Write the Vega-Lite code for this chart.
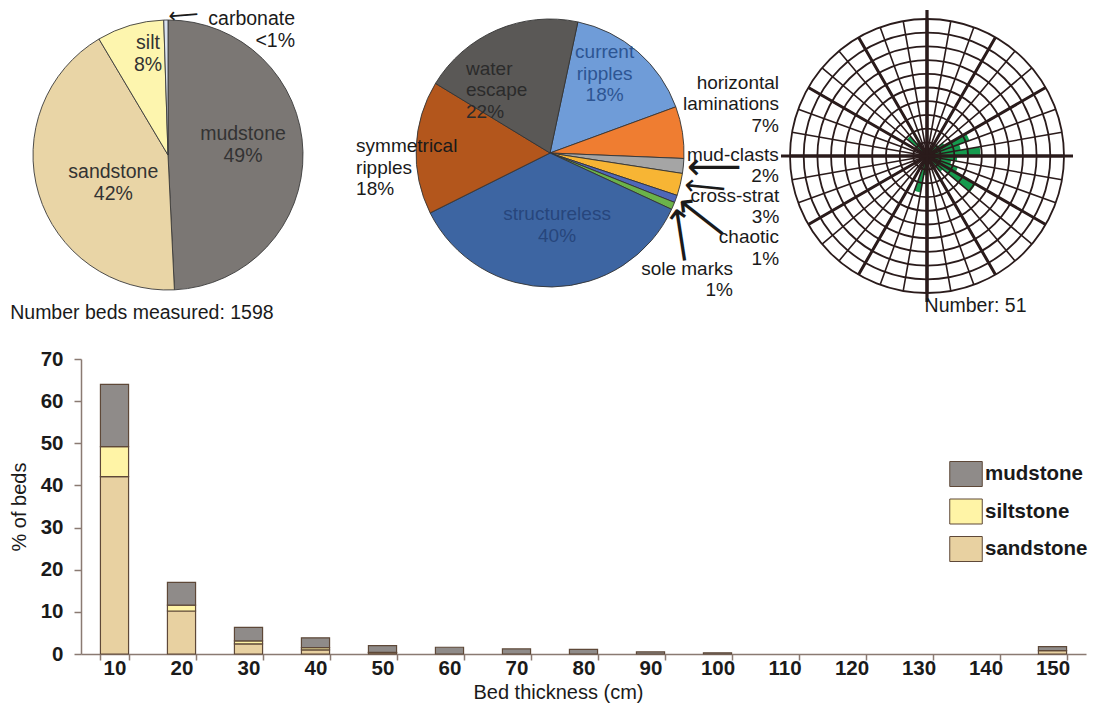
{
  "$schema": "https://vega.github.io/schema/vega-lite/v6.json",
  "background": "#ffffff",
  "padding": {"left": 9, "top": 3, "right": 2, "bottom": 2},
  "config": {
    "font": "Liberation Sans",
    "view": {"stroke": null},
    "text": {"font": "Liberation Sans", "lineBreak": "\n", "fontSize": 19, "lineHeight": 21.5, "color": "#1a1a1a", "baseline": "middle"},
    "title": {"font": "Liberation Sans", "fontSize": 19.5, "fontWeight": "normal", "color": "#1a1a1a"}
  },
  "datasets": {
    "lithology": [
      {"lith": "mudstone", "pct": 49, "label": "mudstone\n49%", "seq": 1},
      {"lith": "sandstone", "pct": 42, "label": "sandstone\n42%", "seq": 2},
      {"lith": "silt", "pct": 8, "label": "silt\n8%", "seq": 3},
      {"lith": "carbonate", "pct": 0.5, "label": "carbonate\n<1%", "seq": 4}
    ],
    "structures": [
      {"structure": "current ripples", "pct": 18, "label": "current\nripples\n18%", "seq": 1},
      {"structure": "horizontal laminations", "pct": 7, "label": "horizontal\nlaminations\n7%", "seq": 2},
      {"structure": "mud-clasts", "pct": 2, "label": "mud-clasts\n2%", "seq": 3},
      {"structure": "cross-strat", "pct": 3, "label": "cross-strat\n3%", "seq": 4},
      {"structure": "chaotic", "pct": 1, "label": "chaotic\n1%", "seq": 5},
      {"structure": "sole marks", "pct": 1, "label": "sole marks\n1%", "seq": 6},
      {"structure": "structureless", "pct": 40, "label": "structureless\n40%", "seq": 7},
      {"structure": "symmetrical ripples", "pct": 18, "label": "symmetrical\nripples\n18%", "seq": 8},
      {"structure": "water escape", "pct": 22, "label": "water\nescape\n22%", "seq": 9}
    ],
    "palaeocurrent": [
      {"from": 40, "to": 50, "n": 1.1},
      {"from": 50, "to": 60, "n": 1.5},
      {"from": 60, "to": 70, "n": 3.3},
      {"from": 70, "to": 80, "n": 2.5},
      {"from": 80, "to": 90, "n": 3.9},
      {"from": 90, "to": 100, "n": 2.2},
      {"from": 100, "to": 110, "n": 1.8},
      {"from": 110, "to": 120, "n": 2.4},
      {"from": 120, "to": 130, "n": 4.1},
      {"from": 130, "to": 140, "n": 1.5},
      {"from": 180, "to": 190, "n": 1.4},
      {"from": 190, "to": 200, "n": 2.7},
      {"from": 310, "to": 320, "n": 1.9},
      {"from": 320, "to": 330, "n": 1.2}
    ],
    "rings": [
      {"ring": 1}, {"ring": 2}, {"ring": 3}, {"ring": 4}, {"ring": 5},
      {"ring": 6}, {"ring": 7}, {"ring": 8}, {"ring": 9}, {"ring": 10}
    ],
    "spokes": [
      {"azimuth": 0}, {"azimuth": 10}, {"azimuth": 20}, {"azimuth": 30}, {"azimuth": 40}, {"azimuth": 50},
      {"azimuth": 60}, {"azimuth": 70}, {"azimuth": 80}, {"azimuth": 90}, {"azimuth": 100}, {"azimuth": 110},
      {"azimuth": 120}, {"azimuth": 130}, {"azimuth": 140}, {"azimuth": 150}, {"azimuth": 160}, {"azimuth": 170},
      {"azimuth": 180}, {"azimuth": 190}, {"azimuth": 200}, {"azimuth": 210}, {"azimuth": 220}, {"azimuth": 230},
      {"azimuth": 240}, {"azimuth": 250}, {"azimuth": 260}, {"azimuth": 270}, {"azimuth": 280}, {"azimuth": 290},
      {"azimuth": 300}, {"azimuth": 310}, {"azimuth": 320}, {"azimuth": 330}, {"azimuth": 340}, {"azimuth": 350}
    ],
    "lithologies": [
      {"lith": "sandstone", "rank": 1},
      {"lith": "siltstone", "rank": 2},
      {"lith": "mudstone", "rank": 3}
    ],
    "beds": [
      {"thickness": 10, "lith": "sandstone", "pct": 42.1},
      {"thickness": 10, "lith": "siltstone", "pct": 7.1},
      {"thickness": 10, "lith": "mudstone", "pct": 14.8},
      {"thickness": 20, "lith": "sandstone", "pct": 10.2},
      {"thickness": 20, "lith": "siltstone", "pct": 1.4},
      {"thickness": 20, "lith": "mudstone", "pct": 5.4},
      {"thickness": 30, "lith": "sandstone", "pct": 2.4},
      {"thickness": 30, "lith": "siltstone", "pct": 0.7},
      {"thickness": 30, "lith": "mudstone", "pct": 3.2},
      {"thickness": 40, "lith": "sandstone", "pct": 1.0},
      {"thickness": 40, "lith": "siltstone", "pct": 0.5},
      {"thickness": 40, "lith": "mudstone", "pct": 2.35},
      {"thickness": 50, "lith": "sandstone", "pct": 0.3},
      {"thickness": 50, "lith": "siltstone", "pct": 0.1},
      {"thickness": 50, "lith": "mudstone", "pct": 1.6},
      {"thickness": 60, "lith": "mudstone", "pct": 1.6},
      {"thickness": 70, "lith": "mudstone", "pct": 1.2},
      {"thickness": 80, "lith": "mudstone", "pct": 1.1},
      {"thickness": 90, "lith": "mudstone", "pct": 0.5},
      {"thickness": 100, "lith": "mudstone", "pct": 0.3},
      {"thickness": 150, "lith": "sandstone", "pct": 0.8},
      {"thickness": 150, "lith": "mudstone", "pct": 0.95}
    ]
  },
  "spacing": 26,
  "resolve": {"scale": {"color": "independent", "theta": "independent", "radius": "independent"}, "legend": {"color": "independent"}},
  "vconcat": [
    {
      "bounds": "flush",
      "spacing": 10,
      "resolve": {"scale": {"color": "independent", "theta": "independent", "radius": "independent"}},
      "hconcat": [
        {
          "width": 174,
          "height": 268,
          "title": {"text": "Number beds measured: 1598", "orient": "bottom", "anchor": "start", "dx": -21, "offset": 12},
          "data": {"name": "lithology"},
          "transform": [{"stack": "pct", "groupby": [], "sort": [{"field": "seq", "order": "ascending"}], "as": ["start", "end"]}],
          "layer": [
            {
              "mark": {"type": "arc", "outerRadius": 135, "stroke": "#3a3a3a", "strokeWidth": 0.9},
              "encoding": {
                "theta": {"field": "end", "type": "quantitative"},
                "theta2": {"field": "start"},
                "color": {"field": "lith", "type": "nominal", "legend": null,
                  "scale": {"domain": ["mudstone", "sandstone", "silt", "carbonate"], "range": ["#7b7774", "#e9d5a6", "#fdf5ae", "#d9e2ef"]}}
              }
            },
            {
              "transform": [{"filter": "datum.lith === 'mudstone'"}],
              "mark": {"type": "text", "radius": 10, "dx": 75, "dy": -11, "fontSize": 19.5, "lineHeight": 22, "color": "#333333"},
              "encoding": {"theta": {"field": "start", "type": "quantitative", "stack": null}, "text": {"field": "label"}}
            },
            {
              "transform": [{"filter": "datum.lith === 'sandstone'"}],
              "mark": {"type": "text", "radius": 28, "dx": -56, "dy": -11, "fontSize": 19.5, "lineHeight": 22, "color": "#333333"},
              "encoding": {"theta": {"field": "start", "type": "quantitative", "stack": null}, "text": {"field": "label"}}
            },
            {
              "transform": [{"filter": "datum.lith === 'silt'"}],
              "mark": {"type": "text", "radius": 103, "dx": 32.7, "dy": -23.5, "fontSize": 19.5, "lineHeight": 22, "color": "#333333"},
              "encoding": {"theta": {"field": "start", "type": "quantitative", "stack": null}, "text": {"field": "label"}}
            },
            {
              "transform": [{"filter": "datum.lith === 'carbonate'"}],
              "mark": {"type": "text", "radius": 125, "dx": 131, "dy": -11, "align": "right", "fontSize": 19.5, "lineHeight": 22},
              "encoding": {"theta": {"field": "start", "type": "quantitative", "stack": null}, "text": {"field": "label"}}
            },
            {
              "transform": [{"filter": "datum.lith === 'carbonate'"}],
              "mark": {"type": "text", "radius": 138, "dx": 4.9, "dy": 0.3, "align": "left", "angle": -4.7, "font": "DejaVu Sans", "fontSize": 21, "text": "⟵"},
              "encoding": {"theta": {"field": "start", "type": "quantitative", "stack": null}}
            }
          ]
        },
        {
          "width": 570,
          "height": 264,
          "data": {"name": "structures"},
          "transform": [{"stack": "pct", "groupby": [], "sort": [{"field": "seq", "order": "ascending"}], "as": ["start", "end"]}],
          "layer": [
            {
              "mark": {"type": "arc", "outerRadius": 134, "stroke": "#333333", "strokeWidth": 0.9},
              "encoding": {
                "theta": {"field": "end", "type": "quantitative", "scale": {"range": [0.20944, 6.49263]}},
                "theta2": {"field": "start"},
                "color": {"field": "structure", "type": "nominal", "legend": null,
                  "scale": {
                    "domain": ["current ripples", "horizontal laminations", "mud-clasts", "cross-strat", "chaotic", "sole marks", "structureless", "symmetrical ripples", "water escape"],
                    "range": ["#6f9cd8", "#ef7d31", "#a5a5a5", "#f7b534", "#4f67b8", "#6bb34a", "#3d65a2", "#b3561c", "#5a5856"]
                  }}
              }
            },
            {
              "transform": [{"filter": "datum.structure === 'current ripples'"}],
              "mark": {"type": "text", "radius": 80, "dx": 38, "dy": -22.5, "color": "#2d5593"},
              "encoding": {"theta": {"field": "start", "type": "quantitative", "stack": null}, "text": {"field": "label"}}
            },
            {
              "transform": [{"filter": "datum.structure === 'water escape'"}],
              "mark": {"type": "text", "radius": 80, "dx": -15.6, "dy": -42.5, "align": "left", "color": "#2b2b2b"},
              "encoding": {"theta": {"field": "start", "type": "quantitative", "stack": null}, "text": {"field": "label"}}
            },
            {
              "transform": [{"filter": "datum.structure === 'structureless'"}],
              "mark": {"type": "text", "radius": 75, "dx": -61, "dy": 29.75, "color": "#27467c"},
              "encoding": {"theta": {"field": "start", "type": "quantitative", "stack": null}, "text": {"field": "label"}}
            },
            {
              "transform": [{"filter": "datum.structure === 'symmetrical ripples'"}],
              "mark": {"type": "text", "radius": 190, "dx": -24, "dy": -91.5, "align": "left"},
              "encoding": {"theta": {"field": "start", "type": "quantitative", "stack": null}, "text": {"field": "label"}}
            },
            {
              "transform": [{"filter": "datum.structure === 'horizontal laminations'"}],
              "mark": {"type": "text", "radius": 240, "dx": 3.7, "dy": 12.5, "align": "right"},
              "encoding": {"theta": {"field": "start", "type": "quantitative", "stack": null}, "text": {"field": "label"}}
            },
            {
              "transform": [{"filter": "datum.structure === 'mud-clasts'"}],
              "mark": {"type": "text", "radius": 229, "dx": 0, "dy": -7.5, "align": "right"},
              "encoding": {"theta": {"field": "start", "type": "quantitative", "stack": null}, "text": {"field": "label"}}
            },
            {
              "transform": [{"filter": "datum.structure === 'cross-strat'"}],
              "mark": {"type": "text", "radius": 232, "dx": 0, "dy": 7.5, "align": "right"},
              "encoding": {"theta": {"field": "start", "type": "quantitative", "stack": null}, "text": {"field": "label"}}
            },
            {
              "transform": [{"filter": "datum.structure === 'chaotic'"}],
              "mark": {"type": "text", "radius": 243, "dx": -1.5, "dy": 7.5, "align": "right"},
              "encoding": {"theta": {"field": "start", "type": "quantitative", "stack": null}, "text": {"field": "label"}}
            },
            {
              "transform": [{"filter": "datum.structure === 'sole marks'"}],
              "mark": {"type": "text", "radius": 200, "dx": -2.9, "dy": 42, "align": "right"},
              "encoding": {"theta": {"field": "start", "type": "quantitative", "stack": null}, "text": {"field": "label"}}
            },
            {
              "transform": [{"filter": "datum.structure === 'mud-clasts'"}],
              "mark": {"type": "text", "radius": 137, "dx": 0, "dy": 9.4, "align": "left", "angle": 0, "font": "DejaVu Sans", "fontSize": 38, "text": "⟵"},
              "encoding": {"theta": {"field": "start", "type": "quantitative", "stack": null}}
            },
            {
              "transform": [{"filter": "datum.structure === 'cross-strat'"}],
              "mark": {"type": "text", "radius": 137, "dx": 0.2, "dy": 11.1, "align": "left", "angle": 5.9, "font": "DejaVu Sans", "fontSize": 29, "text": "⟵"},
              "encoding": {"theta": {"field": "start", "type": "quantitative", "stack": null}}
            },
            {
              "transform": [{"filter": "datum.structure === 'chaotic'"}],
              "mark": {"type": "text", "radius": 137, "dx": 2.2, "dy": 3.6, "align": "left", "angle": 38, "font": "DejaVu Sans", "fontSize": 39.5, "text": "⟵"},
              "encoding": {"theta": {"field": "start", "type": "quantitative", "stack": null}}
            },
            {
              "transform": [{"filter": "datum.structure === 'sole marks'"}],
              "mark": {"type": "text", "radius": 137, "dx": 3.7, "dy": 1.9, "align": "left", "angle": 81.2, "font": "DejaVu Sans", "fontSize": 39, "text": "⟵"},
              "encoding": {"theta": {"field": "start", "type": "quantitative", "stack": null}}
            }
          ]
        },
        {
          "width": 164,
          "height": 270,
          "title": {"text": "Number: 51", "orient": "bottom", "anchor": "start", "dx": 150, "offset": -11},
          "layer": [
            {
              "data": {"name": "palaeocurrent"},
              "mark": {"type": "arc", "color": "#169a4e"},
              "encoding": {
                "theta": {"field": "from", "type": "quantitative", "stack": null, "scale": {"domain": [0, 360], "range": [0, 6.283185]}},
                "theta2": {"field": "to"},
                "radius": {"field": "n", "type": "quantitative", "stack": null, "scale": {"type": "linear", "domain": [0, 10], "range": [0, 137]}}
              }
            },
            {
              "data": {"name": "rings"},
              "mark": {"type": "arc", "filled": false, "stroke": "#2a1b1b", "strokeWidth": 1.8, "theta": 0, "theta2": 6.2832},
              "encoding": {
                "radius": {"field": "ring", "type": "quantitative", "stack": null, "scale": {"type": "linear", "domain": [0, 10], "range": [0, 137]}}
              }
            },
            {
              "data": {"name": "spokes"},
              "mark": {"type": "arc", "filled": false, "stroke": "#2a1b1b", "strokeWidth": 1.6, "outerRadius": 137},
              "encoding": {
                "theta": {"field": "azimuth", "type": "quantitative", "stack": null, "scale": {"domain": [0, 360], "range": [0, 6.283185]}},
                "theta2": {"field": "azimuth"}
              }
            },
            {
              "data": {"name": "spokes"},
              "transform": [{"filter": "datum.azimuth % 30 === 0"}],
              "mark": {"type": "arc", "filled": false, "stroke": "#2a1b1b", "strokeWidth": 3, "outerRadius": 137},
              "encoding": {
                "theta": {"field": "azimuth", "type": "quantitative", "stack": null, "scale": {"domain": [0, 360], "range": [0, 6.283185]}},
                "theta2": {"field": "azimuth"}
              }
            },
            {
              "data": {"name": "spokes"},
              "transform": [{"filter": "datum.azimuth % 90 === 0"}],
              "mark": {"type": "arc", "filled": false, "stroke": "#2a1b1b", "strokeWidth": 3.2, "outerRadius": 146},
              "encoding": {
                "theta": {"field": "azimuth", "type": "quantitative", "stack": null, "scale": {"domain": [0, 360], "range": [0, 6.283185]}},
                "theta2": {"field": "azimuth"}
              }
            }
          ]
        }
      ]
    },
    {
      "width": 1005,
      "height": 295,
      "data": {"name": "beds"},
      "transform": [{"lookup": "lith", "from": {"data": {"name": "lithologies"}, "key": "lith", "fields": ["rank"]}}],
      "mark": {"type": "bar", "stroke": "#5e4838", "strokeWidth": 1.2},
      "encoding": {
        "x": {
          "field": "thickness", "type": "ordinal",
          "scale": {"domain": [10, 20, 30, 40, 50, 60, 70, 80, 90, 100, 110, 120, 130, 140, 150], "paddingInner": 0.58, "paddingOuter": 0.29},
          "axis": {
            "title": "Bed thickness (cm)", "labelAngle": 0, "tickBand": "extent",
            "tickSize": 6, "labelPadding": -2, "titlePadding": 3.5, "titleX": 477, "titleAlign": "center",
            "domainColor": "#8a7a72", "tickColor": "#8a7a72", "domainWidth": 1.5, "tickWidth": 1.5,
            "labelFont": "Liberation Sans", "labelFontSize": 20.5, "labelFontWeight": "bold", "labelColor": "#1a1a1a",
            "titleFont": "Liberation Sans", "titleFontSize": 20, "titleFontWeight": "normal", "titleColor": "#1a1a1a"
          }
        },
        "y": {
          "field": "pct", "type": "quantitative", "stack": "zero",
          "scale": {"domain": [0, 70], "nice": false},
          "axis": {
            "title": "% of beds", "values": [0, 10, 20, 30, 40, 50, 60, 70], "grid": false,
            "tickSize": 7, "labelPadding": 11, "titlePadding": 11,
            "domainColor": "#8a7a72", "tickColor": "#8a7a72", "domainWidth": 1.5, "tickWidth": 1.5,
            "labelFont": "Liberation Sans", "labelFontSize": 20.5, "labelFontWeight": "bold", "labelColor": "#1a1a1a",
            "titleFont": "Liberation Sans", "titleFontSize": 20, "titleFontWeight": "normal", "titleColor": "#1a1a1a"
          }
        },
        "color": {
          "field": "lith", "type": "nominal",
          "scale": {"domain": ["mudstone", "siltstone", "sandstone"], "range": ["#8f8b89", "#fff4a6", "#e8d1a1"]},
          "legend": {
            "orient": "none", "legendX": 872, "legendY": 102, "title": null, "padding": 0,
            "symbolType": "M-1.3,-1H1.3V1H-1.3Z", "symbolSize": 625, "symbolStrokeColor": "#5e4838", "symbolStrokeWidth": 1, "symbolOpacity": 1,
            "labelFont": "Liberation Sans", "labelFontSize": 20.5, "labelFontWeight": "bold", "labelColor": "#1a1a1a",
            "labelOffset": 6, "rowPadding": 7.5
          }
        },
        "order": {"field": "rank", "type": "quantitative"}
      }
    }
  ]
}
